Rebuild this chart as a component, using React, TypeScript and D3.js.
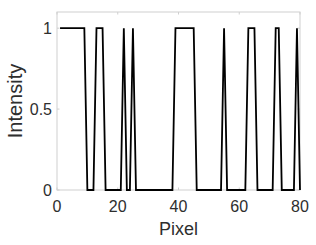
import React from 'react';
import * as d3 from 'd3';

// intensity per pixel, pixels 1..80
const pixels = d3.range(1, 81);
const intensity = [
    1, 1, 1, 1, 1, 1, 1, 1, 1, 0,
    0, 0, 1, 1, 1, 0, 0, 0, 0, 0,
    0, 1, 0, 0, 1, 0, 0, 0, 0, 0,
    0, 0, 0, 0, 0, 0, 0, 0, 1, 1,
    1, 1, 1, 1, 1, 0, 0, 0, 0, 0,
    0, 0, 0, 0, 1, 0, 0, 0, 0, 0,
    0, 0, 1, 1, 1, 0, 0, 0, 0, 0,
    0, 1, 1, 0, 0, 0, 0, 0, 1, 0,
];
const xTicks = [0, 20, 40, 60, 80];
const yTicks = [0, 0.5, 1];

const W = 316;
const H = 245;
const margin = { left: 57, right: 16, top: 12, bottom: 55 };

const App = () => {
    const x = d3.scaleLinear().domain([0, 80]).range([margin.left, W - margin.right]);
    const y = d3.scaleLinear().domain([0, 1.1]).range([H - margin.bottom, margin.top]);

    const line = d3.line<number>()
        .x((d, i) => x(pixels[i]))
        .y((d) => y(d));

    const x0 = x(0), x1 = x(80), y0 = y(0), y1 = y(1.1);
    const tickLen = 2.5;
    const boxColor = '#cfcfcf';
    const textColor = '#2e2e2e';
    const font = '"Liberation Sans", Arial, sans-serif';

    return (
        <svg width={W} height={H} style={{ position: 'absolute', left: 0, top: 0 }} fontFamily={font}>
            <rect x={0} y={0} width={W} height={H} fill="#fff" />
            {/* box */}
            <rect x={x0} y={y1} width={x1 - x0} height={y0 - y1} fill="none" stroke={boxColor} strokeWidth={1} />
            {xTicks.map((t) => (
                <g key={'x' + t}>
                    <line x1={x(t)} x2={x(t)} y1={y0} y2={y0 - tickLen} stroke={boxColor} />
                    <line x1={x(t)} x2={x(t)} y1={y1} y2={y1 + tickLen} stroke={boxColor} />
                    <text x={x(t)} y={212} fontSize={16} textAnchor="middle" fill={textColor}>{t}</text>
                </g>
            ))}
            {yTicks.map((t) => (
                <g key={'y' + t}>
                    <line x1={x0} x2={x0 + tickLen} y1={y(t)} y2={y(t)} stroke={boxColor} />
                    <line x1={x1} x2={x1 - tickLen} y1={y(t)} y2={y(t)} stroke={boxColor} />
                    <text x={52} y={y(t)} dy="0.36em" fontSize={16} textAnchor="end" fill={textColor}>{t}</text>
                </g>
            ))}
            <path d={line(intensity) || ''} fill="none" stroke="#000" strokeWidth={1.8} strokeLinejoin="miter" />
            <text x={(x0 + x1) / 2} y={235} fontSize={18} textAnchor="middle" fill={textColor}>Pixel</text>
            <text transform={`translate(22,${(y0 + y1) / 2}) rotate(-90)`} fontSize={20} textAnchor="middle" fill={textColor}>Intensity</text>
        </svg>
    );
};

export default App;
